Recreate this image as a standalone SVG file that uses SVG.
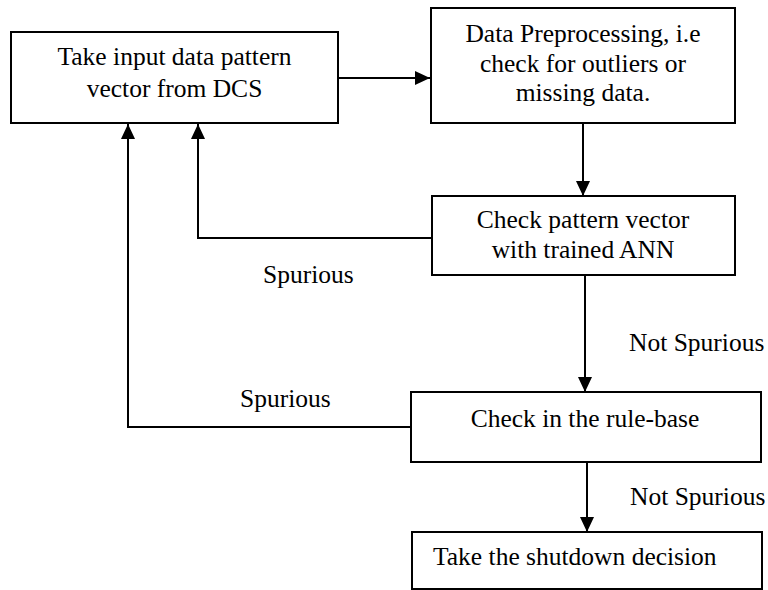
<svg xmlns="http://www.w3.org/2000/svg" width="768" height="590" viewBox="0 0 768 590">
  <style>
    .box { fill: #ffffff; stroke: #000000; stroke-width: 2; }
    .txt { font-family: "Liberation Serif", "Times New Roman", serif; font-size: 25.5px; fill: #000000; }
    .mid { text-anchor: middle; }
    .edge { fill: none; stroke: #000000; stroke-width: 2; }
  </style>
  <defs>
    <marker id="arrow" markerUnits="userSpaceOnUse" markerWidth="16" markerHeight="16" viewBox="0 0 16 16" refX="15" refY="8" orient="auto">
      <path d="M0,1 L15,8 L0,15 Z" fill="#000000"/>
    </marker>
  </defs>
  <rect width="768" height="590" fill="#ffffff"/>

  <g id="connectors">
    <path class="edge" d="M338,78 H430" marker-end="url(#arrow)"/>
    <path class="edge" d="M583,123 V196" marker-end="url(#arrow)"/>
    <path class="edge" d="M432,238 H198 V124" marker-end="url(#arrow)"/>
    <path class="edge" d="M585,275 V392" marker-end="url(#arrow)"/>
    <path class="edge" d="M411,427 H128 V124" marker-end="url(#arrow)"/>
    <path class="edge" d="M587,462 V532" marker-end="url(#arrow)"/>
    <text class="txt" x="263" y="283">Spurious</text>
    <text class="txt" x="629" y="351">Not Spurious</text>
    <text class="txt" x="240" y="407">Spurious</text>
    <text class="txt" x="630" y="505">Not Spurious</text>
  </g>

  <g id="input">
    <rect class="box" x="11" y="32" width="327" height="91"/>
    <text class="txt mid" x="174.5" y="65">Take input data pattern</text>
    <text class="txt mid" x="174.5" y="97">vector from DCS</text>
  </g>

  <g id="preprocess">
    <rect class="box" x="431" y="8" width="304" height="115"/>
    <text class="txt mid" x="583" y="42">Data Preprocessing, i.e</text>
    <text class="txt mid" x="583" y="72">check for outliers or</text>
    <text class="txt mid" x="583" y="101">missing data.</text>
  </g>

  <g id="ann">
    <rect class="box" x="432" y="196" width="303" height="79"/>
    <text class="txt mid" x="583" y="228">Check pattern vector</text>
    <text class="txt mid" x="583" y="258">with trained ANN</text>
  </g>

  <g id="rulebase">
    <rect class="box" x="411" y="392" width="350" height="70"/>
    <text class="txt mid" x="585" y="427">Check in the rule-base</text>
  </g>

  <g id="shutdown">
    <rect class="box" x="412" y="532" width="350" height="57"/>
    <text class="txt" x="433" y="565">Take the shutdown decision</text>
  </g>
</svg>
